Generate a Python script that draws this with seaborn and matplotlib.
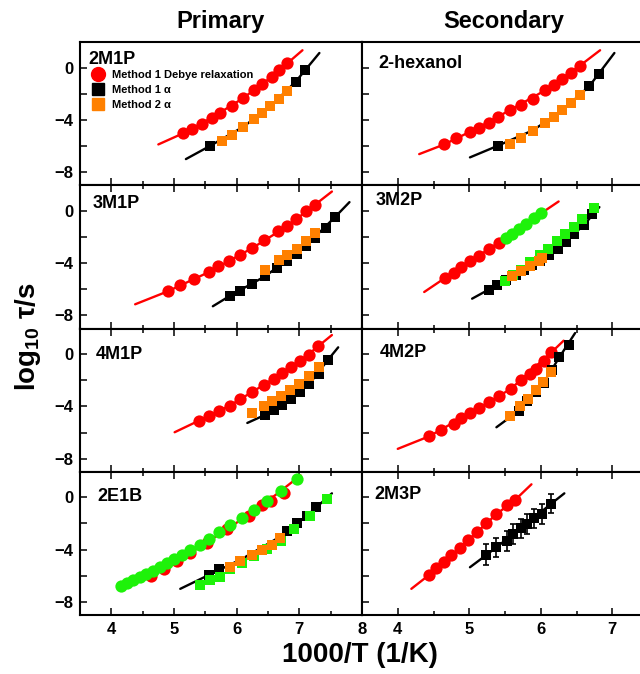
import numpy as np
import seaborn as sns
import matplotlib.pyplot as plt
from matplotlib.lines import Line2D
from matplotlib.ticker import MultipleLocator, FixedLocator

# ---- data (x = 1000/T, y = log10 tau) ----
# 2M1P (primary)
m2m1p_red_x = [5.15, 5.29, 5.44, 5.60, 5.74, 5.93, 6.10, 6.28, 6.41, 6.56, 6.68, 6.81]
m2m1p_red_y = [-5.02, -4.68, -4.35, -3.85, -3.45, -2.92, -2.35, -1.70, -1.24, -0.71, -0.22, 0.32]
m2m1p_redfit_x = [4.75, 5.15, 5.60, 6.10, 6.56, 7.05]
m2m1p_redfit_y = [-5.88, -5.02, -3.85, -2.35, -0.71, 1.32]
m2m1p_blk_x = [5.58, 6.94, 7.09]
m2m1p_blk_y = [-5.98, -1.09, -0.20]
m2m1p_blkfit_x = [5.19, 5.58, 6.10, 6.53, 6.94, 7.32]
m2m1p_blkfit_y = [-7.0, -5.98, -4.55, -3.0, -1.09, 1.11]
m2m1p_org_x = [5.76, 5.92, 6.10, 6.28, 6.41, 6.53, 6.68, 6.81]
m2m1p_org_y = [-5.60, -5.15, -4.51, -3.90, -3.45, -2.94, -2.38, -1.80]

# 2-hexanol (secondary)
hex_red_x = [4.65, 4.82, 5.01, 5.13, 5.27, 5.40, 5.57, 5.73, 5.89, 6.06, 6.18, 6.30, 6.42, 6.55]
hex_red_y = [-5.88, -5.42, -4.92, -4.59, -4.21, -3.78, -3.25, -2.86, -2.38, -1.75, -1.34, -0.86, -0.40, 0.15]
hex_redfit_x = [4.30, 4.65, 5.13, 5.57, 6.06, 6.55, 6.83]
hex_redfit_y = [-6.62, -5.88, -4.59, -3.25, -1.75, 0.15, 1.32]
hex_blk_x = [5.40, 6.68, 6.81]
hex_blk_y = [-5.98, -1.42, -0.48]
hex_blkfit_x = [5.01, 5.40, 5.89, 6.30, 6.68, 7.03]
hex_blkfit_y = [-6.87, -5.98, -4.80, -3.30, -1.42, 1.11]
hex_org_x = [5.57, 5.73, 5.89, 6.06, 6.18, 6.30, 6.42, 6.55]
hex_org_y = [-5.86, -5.37, -4.84, -4.21, -3.75, -3.27, -2.74, -2.13]

# 3M1P (primary)
m3m1p_red_x = [4.90, 5.09, 5.32, 5.56, 5.71, 5.88, 6.05, 6.25, 6.44, 6.66, 6.80, 6.94, 7.10, 7.25]
m3m1p_red_y = [-6.16, -5.70, -5.19, -4.68, -4.25, -3.84, -3.36, -2.85, -2.27, -1.58, -1.20, -0.66, -0.05, 0.46]
m3m1p_redfit_x = [4.38, 4.90, 5.56, 6.25, 6.80, 7.25, 7.52]
m3m1p_redfit_y = [-7.15, -6.16, -4.68, -2.85, -1.20, 0.46, 1.47]
m3m1p_blk_x = [5.89, 6.06, 6.25, 6.46, 6.65, 6.81, 6.96, 7.10, 7.25, 7.42, 7.57]
m3m1p_blk_y = [-6.51, -6.16, -5.60, -4.99, -4.38, -3.87, -3.31, -2.69, -2.08, -1.30, -0.48]
m3m1p_blkfit_x = [5.62, 5.89, 6.46, 7.10, 7.57, 7.80]
m3m1p_blkfit_y = [-7.30, -6.51, -4.99, -2.69, -0.48, 0.66]
m3m1p_org_x = [6.46, 6.68, 6.81, 6.96, 7.10, 7.25]
m3m1p_org_y = [-4.56, -3.79, -3.36, -2.90, -2.31, -1.68]

# 3M2P (secondary)
m3m2p_red_x = [4.66, 4.78, 4.89, 5.01, 5.13, 5.27, 5.41]
m3m2p_red_y = [-5.14, -4.76, -4.33, -3.87, -3.46, -2.95, -2.44]
m3m2p_grc_x = [5.51, 5.60, 5.69, 5.79, 5.90, 6.01]
m3m2p_grc_y = [-2.09, -1.76, -1.37, -0.99, -0.56, -0.15]
m3m2p_redfit_x = [4.37, 4.66, 5.01, 5.41, 5.79, 6.25]
m3m2p_redfit_y = [-6.21, -5.14, -3.87, -2.44, -0.99, 0.71]
m3m2p_blk_x = [5.27, 5.39, 5.51, 5.65, 5.76, 5.88, 5.99, 6.12, 6.24, 6.36, 6.47, 6.60, 6.72]
m3m2p_blk_y = [-6.03, -5.65, -5.32, -4.94, -4.56, -4.17, -3.84, -3.41, -2.90, -2.39, -1.76, -1.12, -0.23]
m3m2p_blkfit_x = [5.04, 5.27, 5.65, 6.12, 6.60, 6.82]
m3m2p_blkfit_y = [-6.72, -6.03, -4.94, -3.41, -1.12, 0.28]
m3m2p_grs_x = [5.50, 5.61, 5.73, 5.85, 5.99, 6.10, 6.23, 6.34, 6.46, 6.58, 6.74]
m3m2p_grs_y = [-5.40, -4.94, -4.50, -3.95, -3.40, -2.90, -2.34, -1.81, -1.25, -0.61, 0.20]
m3m2p_org_x = [5.60, 5.73, 5.85, 5.97, 6.02]
m3m2p_org_y = [-5.01, -4.63, -4.25, -3.87, -3.61]

# 4M1P (primary)
m4m1p_red_x = [5.40, 5.56, 5.72, 5.89, 6.06, 6.25, 6.44, 6.59, 6.72, 6.86, 7.01, 7.16, 7.30]
m4m1p_red_y = [-5.09, -4.76, -4.33, -3.94, -3.44, -2.93, -2.34, -1.91, -1.48, -1.02, -0.56, -0.08, 0.59]
m4m1p_redfit_x = [5.01, 5.40, 5.89, 6.44, 7.01, 7.30, 7.52]
m4m1p_redfit_y = [-5.98, -5.09, -3.94, -2.34, -0.56, 0.59, 1.45]
m4m1p_blk_x = [6.45, 6.60, 6.73, 6.86, 7.01, 7.16, 7.31, 7.46]
m4m1p_blk_y = [-4.66, -4.27, -3.89, -3.44, -2.93, -2.29, -1.53, -0.43]
m4m1p_blkfit_x = [6.17, 6.45, 6.86, 7.16, 7.46, 7.62]
m4m1p_blkfit_y = [-5.27, -4.66, -3.44, -2.29, -0.43, 0.51]
m4m1p_org_x = [6.25, 6.44, 6.57, 6.70, 6.85, 7.00, 7.15, 7.31]
m4m1p_org_y = [-4.50, -3.94, -3.56, -3.18, -2.75, -2.29, -1.70, -1.02]

# 4M2P (secondary)
m4m2p_red_x = [4.44, 4.60, 4.78, 4.89, 5.01, 5.13, 5.27, 5.41, 5.58, 5.73, 5.85, 5.93, 6.04, 6.15]
m4m2p_red_y = [-6.29, -5.80, -5.34, -4.91, -4.53, -4.12, -3.69, -3.23, -2.67, -1.96, -1.53, -1.15, -0.51, 0.13]
m4m2p_redfit_x = [4.00, 4.44, 5.01, 5.58, 6.15, 6.32]
m4m2p_redfit_y = [-7.25, -6.29, -4.53, -2.67, 0.13, 1.02]
m4m2p_blk_x = [5.69, 5.81, 5.93, 6.04, 6.16, 6.26, 6.39]
m4m2p_blk_y = [-4.35, -3.60, -2.90, -2.20, -1.25, -0.25, 0.69]
m4m2p_blkfit_x = [5.38, 5.69, 6.04, 6.26, 6.48]
m4m2p_blkfit_y = [-5.60, -4.35, -2.20, -0.25, 1.60]
m4m2p_org_x = [5.57, 5.71, 5.82, 5.93, 6.03, 6.15]
m4m2p_org_y = [-4.71, -3.94, -3.44, -2.75, -2.11, -1.35]

# 2E1B (primary)
e2e1b_grc_x = [4.16, 4.25, 4.35, 4.45, 4.56, 4.67, 4.78, 4.89, 5.00, 5.13,
               5.26, 5.42, 5.56, 5.72, 5.90, 6.09, 6.28, 6.49, 6.70, 6.96]
e2e1b_grc_y = [-6.79, -6.56, -6.36, -6.11, -5.88, -5.60, -5.30, -5.04, -4.71, -4.41,
               -4.03, -3.65, -3.19, -2.69, -2.13, -1.62, -0.99, -0.28, 0.48, 1.37]
e2e1b_red_x = [4.64, 4.84, 5.05, 5.26, 5.52, 5.85, 6.20, 6.41, 6.54, 6.76]
e2e1b_red_y = [-6.03, -5.48, -4.89, -4.26, -3.50, -2.43, -1.47, -0.61, -0.28, 0.36]
e2e1b_redfit_x = [4.20, 4.64, 5.26, 5.85, 6.41, 7.02]
e2e1b_redfit_y = [-6.90, -6.00, -4.26, -2.43, -0.61, 1.67]
e2e1b_blk_x = [5.56, 5.72, 6.81, 6.96, 7.12, 7.27]
e2e1b_blk_y = [-5.93, -5.48, -2.56, -1.93, -1.42, -0.78]
e2e1b_blkfit_x = [5.10, 5.56, 6.09, 6.70, 7.12, 7.52]
e2e1b_blkfit_y = [-7.00, -5.93, -4.70, -3.00, -1.42, 0.30]
e2e1b_grs_x = [5.41, 5.57, 5.73, 5.90, 6.09, 6.28, 6.49, 6.70, 6.92, 7.17, 7.44]
e2e1b_grs_y = [-6.74, -6.29, -6.11, -5.48, -5.02, -4.51, -3.95, -3.32, -2.43, -1.42, -0.10]
e2e1b_org_x = [5.89, 6.06, 6.25, 6.41, 6.56, 6.69]
e2e1b_org_y = [-5.35, -4.84, -4.41, -4.03, -3.65, -3.12]

# 2M3P (secondary)
m2m3p_red_x = [4.44, 4.54, 4.65, 4.75, 4.87, 4.98, 5.11, 5.24, 5.38, 5.53, 5.64]
m2m3p_red_y = [-5.93, -5.42, -4.92, -4.41, -3.88, -3.27, -2.64, -2.00, -1.29, -0.61, -0.21]
m2m3p_redfit_x = [4.19, 4.44, 4.87, 5.38, 5.64, 5.87]
m2m3p_redfit_y = [-7.00, -5.93, -3.88, -1.29, -0.21, 0.99]
m2m3p_blk_x = [5.24, 5.38, 5.53, 5.61, 5.72, 5.81, 5.91, 6.02, 6.15]
m2m3p_blk_y = [-4.41, -3.83, -3.32, -2.81, -2.38, -2.05, -1.62, -1.29, -0.48]
m2m3p_blk_err = [0.80, 0.75, 0.75, 0.75, 0.75, 0.75, 0.75, 0.75, 0.75]
m2m3p_blkfit_x = [5.01, 5.24, 5.72, 6.15, 6.33]
m2m3p_blkfit_y = [-5.35, -4.41, -2.38, -0.48, 0.30]

RED, BLACK, ORANGE, GREEN = "#ff0000", "#000000", "#ff8000", "#1ef20a"

sns.set_style("ticks")
plt.rcParams["font.family"] = ["Liberation Sans", "DejaVu Sans"]
plt.rcParams["font.weight"] = "bold"
plt.rcParams["mathtext.fontset"] = "custom"
plt.rcParams["mathtext.bf"] = "Liberation Sans:bold"
plt.rcParams["mathtext.rm"] = "Liberation Sans:bold"
plt.rcParams["axes.linewidth"] = 1.5
for key in ["text.color", "axes.labelcolor", "axes.edgecolor", "xtick.color", "ytick.color"]:
    plt.rcParams[key] = "black"

fig = plt.figure(figsize=(6.4, 6.74), dpi=100)
W, H = 640.0, 674.0
row_top, row_h = 42.0, 143.25
col_left = [80.0, 362.0]
col_w = [282.0, 286.0]
xlims = [(3.5, 8.0), (3.5, 7.5)]


def fit(ax, x, y, c):
    sns.lineplot(x=x, y=y, color=c, lw=1.7, sort=False, estimator=None, ax=ax, zorder=2)


def pts(ax, x, y, c, m):
    sz = 78 if m == "o" else 58
    sns.scatterplot(x=x, y=y, color=c, marker=m, s=sz, linewidth=0, ax=ax, zorder=3, legend=False)


def panel(row, col, name, tx, ty):
    l = col_left[col] / W
    b = 1 - (row_top + (row + 1) * row_h) / H
    ax = fig.add_axes([l, b, col_w[col] / W, row_h / H])
    ax.set_xlim(*xlims[col])
    ax.set_ylim(-9, 1.95)
    ax.xaxis.set_major_locator(FixedLocator([4, 5, 6, 7, 8]))
    ax.xaxis.set_minor_locator(MultipleLocator(0.5))
    ax.yaxis.set_major_locator(FixedLocator([-8, -4, 0]))
    ax.yaxis.set_minor_locator(FixedLocator([-6, -2]))
    ax.tick_params(which="both", direction="in", top=(row > 0), right=False,
                   width=1.1, labelsize=12, pad=5)
    ax.tick_params(which="major", length=5)
    ax.tick_params(which="minor", length=3)
    ax.tick_params(axis="y", which="minor", length=5)
    if row < 3:
        ax.set_xticklabels([])
    if col == 1:
        ax.set_yticklabels([])
    ax.set_xlabel("")
    ax.set_ylabel("")
    ax.text(tx, ty, name, transform=ax.transAxes, fontsize=13, fontweight="bold", va="top", ha="left")
    return ax


# row 0
ax = panel(0, 0, "2M1P", 0.028, 0.94)
fit(ax, m2m1p_redfit_x, m2m1p_redfit_y, RED)
fit(ax, m2m1p_blkfit_x, m2m1p_blkfit_y, BLACK)
pts(ax, m2m1p_red_x, m2m1p_red_y, RED, "o")
pts(ax, m2m1p_blk_x, m2m1p_blk_y, BLACK, "s")
pts(ax, m2m1p_org_x, m2m1p_org_y, ORANGE, "s")
handles = [Line2D([], [], ls="none", marker="o", color=RED, markersize=10),
           Line2D([], [], ls="none", marker="s", color=BLACK, markersize=8.5),
           Line2D([], [], ls="none", marker="s", color=ORANGE, markersize=8.5)]
ax.legend(handles, ["Method 1 Debye relaxation", "Method 1 \u03b1", "Method 2 \u03b1"],
          loc="upper left", bbox_to_anchor=(0.02, 0.85), frameon=False, borderaxespad=0.2,
          handlelength=1.0, handletextpad=0.8, labelspacing=0.45, prop={"size": 8, "weight": "bold"})

ax = panel(0, 1, "2-hexanol", 0.056, 0.91)
fit(ax, hex_redfit_x, hex_redfit_y, RED)
fit(ax, hex_blkfit_x, hex_blkfit_y, BLACK)
pts(ax, hex_red_x, hex_red_y, RED, "o")
pts(ax, hex_blk_x, hex_blk_y, BLACK, "s")
pts(ax, hex_org_x, hex_org_y, ORANGE, "s")

# row 1
ax = panel(1, 0, "3M1P", 0.046, 0.93)
fit(ax, m3m1p_redfit_x, m3m1p_redfit_y, RED)
fit(ax, m3m1p_blkfit_x, m3m1p_blkfit_y, BLACK)
pts(ax, m3m1p_red_x, m3m1p_red_y, RED, "o")
pts(ax, m3m1p_blk_x, m3m1p_blk_y, BLACK, "s")
pts(ax, m3m1p_org_x, m3m1p_org_y, ORANGE, "s")

ax = panel(1, 1, "3M2P", 0.046, 0.955)
fit(ax, m3m2p_redfit_x, m3m2p_redfit_y, RED)
fit(ax, m3m2p_blkfit_x, m3m2p_blkfit_y, BLACK)
pts(ax, m3m2p_red_x, m3m2p_red_y, RED, "o")
pts(ax, m3m2p_grc_x, m3m2p_grc_y, GREEN, "o")
pts(ax, m3m2p_blk_x, m3m2p_blk_y, BLACK, "s")
pts(ax, m3m2p_grs_x, m3m2p_grs_y, GREEN, "s")
pts(ax, m3m2p_org_x, m3m2p_org_y, ORANGE, "s")

# row 2
ax = panel(2, 0, "4M1P", 0.057, 0.875)
fit(ax, m4m1p_redfit_x, m4m1p_redfit_y, RED)
fit(ax, m4m1p_blkfit_x, m4m1p_blkfit_y, BLACK)
pts(ax, m4m1p_red_x, m4m1p_red_y, RED, "o")
pts(ax, m4m1p_blk_x, m4m1p_blk_y, BLACK, "s")
pts(ax, m4m1p_org_x, m4m1p_org_y, ORANGE, "s")

ax = panel(2, 1, "4M2P", 0.063, 0.895)
fit(ax, m4m2p_redfit_x, m4m2p_redfit_y, RED)
fit(ax, m4m2p_blkfit_x, m4m2p_blkfit_y, BLACK)
pts(ax, m4m2p_red_x, m4m2p_red_y, RED, "o")
pts(ax, m4m2p_blk_x, m4m2p_blk_y, BLACK, "s")
pts(ax, m4m2p_org_x, m4m2p_org_y, ORANGE, "s")

# row 3
ax = panel(3, 0, "2E1B", 0.06, 0.89)
fit(ax, e2e1b_redfit_x, e2e1b_redfit_y, RED)
fit(ax, e2e1b_blkfit_x, e2e1b_blkfit_y, BLACK)
pts(ax, e2e1b_red_x, e2e1b_red_y, RED, "o")
pts(ax, e2e1b_grc_x, e2e1b_grc_y, GREEN, "o")
pts(ax, e2e1b_blk_x, e2e1b_blk_y, BLACK, "s")
pts(ax, e2e1b_grs_x, e2e1b_grs_y, GREEN, "s")
pts(ax, e2e1b_org_x, e2e1b_org_y, ORANGE, "s")

ax = panel(3, 1, "2M3P", 0.045, 0.90)
fit(ax, m2m3p_redfit_x, m2m3p_redfit_y, RED)
fit(ax, m2m3p_blkfit_x, m2m3p_blkfit_y, BLACK)
pts(ax, m2m3p_red_x, m2m3p_red_y, RED, "o")
ax.errorbar(m2m3p_blk_x, m2m3p_blk_y, yerr=m2m3p_blk_err, fmt="none", ecolor=BLACK,
            elinewidth=1.2, capsize=2.5, capthick=1.2, zorder=3)
pts(ax, m2m3p_blk_x, m2m3p_blk_y, BLACK, "s")

fig.text(0.345, 0.968, "Primary", ha="center", va="center", fontsize=17, fontweight="bold")
fig.text(0.7875, 0.968, "Secondary", ha="center", va="center", fontsize=17, fontweight="bold")
fig.text(0.5625, 0.028, "1000/T (1/K)", ha="center", va="center", fontsize=20, fontweight="bold")
fig.text(0.044, 0.50, r"log$_{\mathbf{10}}$ $\mathbf{\tau}$/s", ha="center", va="center",
         rotation=90, fontsize=20, fontweight="bold")

fig.savefig("out.png", dpi=100)
